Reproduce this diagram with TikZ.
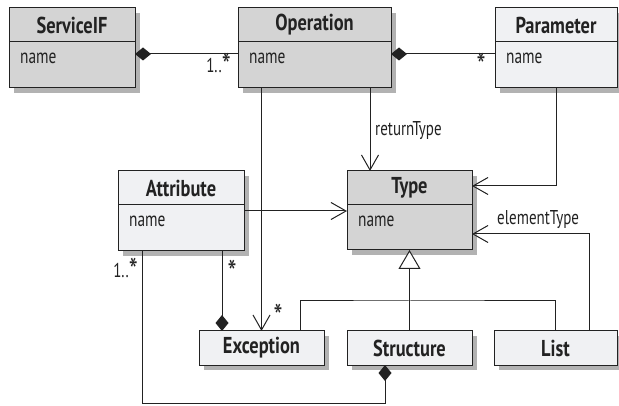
\documentclass[tikz,border=0pt]{standalone}
\usepackage{fontspec}
\setmainfont{PT Sans}[FakeStretch=0.75]
\newfontfamily\ttlfont{PT Sans}[FakeStretch=0.8]
\usetikzlibrary{arrows.meta,shadows}
\definecolor{boxdark}{HTML}{D4D4D4}
\definecolor{boxlight}{HTML}{F0F1F3}
\definecolor{ink}{HTML}{222222}
\newcommand\bigast{\raisebox{-5pt}{\fontsize{34}{34}\selectfont *}}
\tikzset{
  base/.style={draw=ink, line width=1pt, inner sep=0pt, outer sep=0pt, anchor=north west,
    drop shadow={shadow xshift=5pt, shadow yshift=-5pt, opacity=0.3, fill=black}},
  dark/.style={base, fill=boxdark},
  light/.style={base, fill=boxlight},
  ttl/.style={font=\ttlfont\bfseries\fontsize{23}{24}\selectfont, text=ink, inner sep=0pt, anchor=center},
  attr/.style={font=\fontsize{20.5}{22}\selectfont, text=ink, anchor=west, inner sep=0pt},
  lbl/.style={font=\fontsize{20}{22}\selectfont, text=ink, inner sep=0pt},
  ln/.style={line width=1pt, draw=ink},
  nav/.style={ln, -{Straight Barb[length=15pt,width=17pt]}},
  comp/.style={ln, {Diamond[length=16pt,width=13pt,fill=ink]}-},
  gen/.style={ln, -{Triangle[open,length=19pt,width=22pt,fill=white]}},
}
\begin{document}
\begin{tikzpicture}[x=1pt,y=-1pt]
\useasboundingbox (0,0) rectangle (619,406);
% boxes
\node[dark, minimum width=126pt, minimum height=80pt] (sif) at (9,8) {};
\node[dark, minimum width=153pt, minimum height=80pt] (op) at (238,8) {};
\node[light, minimum width=122pt, minimum height=80pt] (par) at (495,8) {};
\node[light, minimum width=126pt, minimum height=80pt] (att) at (118,171) {};
\node[dark, minimum width=125pt, minimum height=79pt] (tp) at (347,171) {};
\node[light, minimum width=125pt, minimum height=34pt] (exc) at (199,331) {};
\node[light, minimum width=125pt, minimum height=34pt] (str) at (347,331) {};
\node[light, minimum width=123pt, minimum height=34pt] (lst) at (494,331) {};
% dividers
\draw[ln] (9,42) -- (135,42);
\draw[ln] (238,42) -- (391,42);
\draw[ln] (495,42) -- (617,42);
\draw[ln] (118,205) -- (244,205);
\draw[ln] (347,205) -- (472,205);
% titles
\node[ttl] (sift) at ([yshift=-17pt]sif.north) {ServiceIF};
\node[ttl] (opt) at ([yshift=-17pt]op.north) {Operation};
\node[ttl] (part) at ([yshift=-17pt]par.north) {Parameter};
\node[ttl] (attt) at ([yshift=-17pt]att.north) {Attribute};
\node[ttl] (tpt) at ([yshift=-17pt]tp.north) {Type};
\node[ttl] (exct) at (exc.center) {Exception};
\node[ttl] (strt) at (str.center) {Structure};
\node[ttl] (lstt) at (lst.center) {List};
% attributes
\node[attr] (sifa) at (20,58) {name};
\node[attr] (opa) at (249,58) {name};
\node[attr] (para) at (506,58) {name};
\node[attr] (atta) at (129,221) {name};
\node[attr] (tpa) at (358,221) {name};
% connectors
\draw[comp] ([yshift=-6pt]sif.east) -- ([yshift=-6pt]op.west);
\draw[comp] ([yshift=-6pt]op.east) -- ([yshift=-6pt]par.west);
\draw[nav] ([xshift=55.5pt]op.south) -- ([xshift=55.5pt]op.south |- tp.north);
\draw[nav] (exc.north |- op.south) -- (exc.north);
\draw[nav] (par.south) |- ([yshift=24.5pt]tp.east);
\draw[nav] (att.east) -- (att.east -| tp.west);
\draw[nav] ([xshift=33.5pt]lst.north) |- ([yshift=-23.5pt]tp.east);
\coordinate (gj) at (409.5,301);
\draw[gen] (str.north) -- (tp.south);
\draw[ln] ([xshift=38.5pt]exc.north) |- (gj) -| (lst.north);
\draw[comp] ([xshift=-39.5pt]exc.north) -- ([xshift=-39.5pt]exc.north |- att.south);
\coordinate (bl) at (142,403);
\draw[comp] ([xshift=-24.5pt]str.south) |- (bl) -- (bl |- att.south);
% labels
\node[lbl, anchor=base east] (m1) at (231,73) {1..\bigast};
\node[lbl, anchor=base] (m2) at (481,73) {\bigast};
\node[lbl, anchor=west] (rt) at (375,131) {returnType};
\node[lbl, anchor=west] (et) at (497,220) {elementType};
\node[lbl, anchor=base] (m3) at (232,280) {\bigast};
\node[lbl, anchor=base east] (m4) at (138,278) {1..\bigast};
\node[lbl, anchor=base] (m5) at (278,324) {\bigast};
\end{tikzpicture}
\end{document}
